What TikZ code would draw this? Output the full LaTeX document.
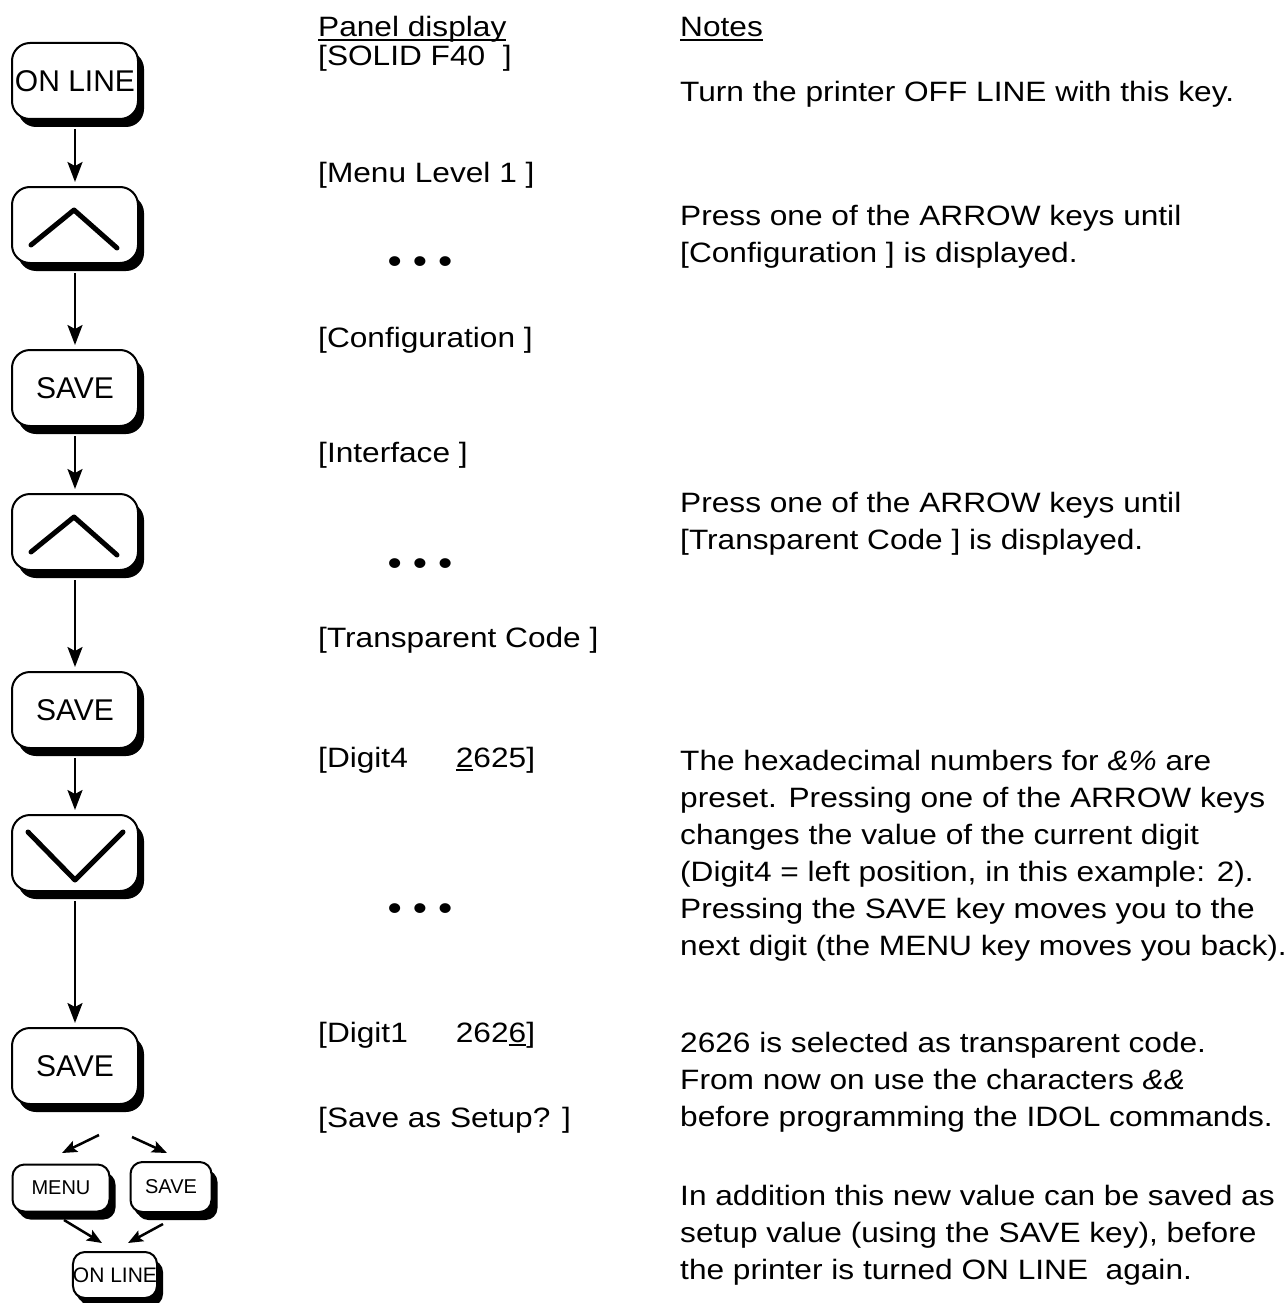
\documentclass[tikz,border=0pt]{standalone}
\usepackage{fontspec}
\setmainfont[FakeStretch=1.13]{Liberation Sans}
\newfontfamily\keyfont{Liberation Sans}
\usetikzlibrary{arrows.meta,shadows}
\newcommand\myul[1]{\setbox0\hbox{#1}\rlap{\rule[-4pt]{\wd0}{2pt}}\box0\relax}
\newcommand\paralines[1]{\vtop{\baselineskip=37pt\relax #1}}
\begin{document}
\begin{tikzpicture}[x=1pt,y=-1pt,
  keybox/.style={draw, line width=2pt, fill=white, rounded corners=18pt,
    minimum width=126pt, minimum height=76pt, inner sep=0pt,
    font=\keyfont\fontsize{30}{30}\selectfont,
    drop shadow={shadow xshift=6pt, shadow yshift=-8pt, fill=black, opacity=1}},
  smallkey/.style={keybox, rounded corners=12pt, minimum height=47pt,
    font=\keyfont\fontsize{20}{20}\selectfont,
    drop shadow={shadow xshift=3pt, shadow yshift=-5pt, fill=black, opacity=1}},
  chev/.style={line width=5pt, line cap=round, line join=round},
  arr/.style={line width=2.5pt, -{Stealth[length=20pt,width=15pt,inset=4pt]}},
  sarr/.style={line width=2.5pt, -{Stealth[length=15pt,width=12pt,inset=3pt]}},
  txt/.style={anchor=base west, inner sep=0pt, font=\fontsize{28}{37}\selectfont},
  dots/.style={anchor=center, inner sep=0pt, font=\fontsize{36}{37}\selectfont}
]
\useasboundingbox (0,0) rectangle (1287,1303);

% keys
\node[keybox] (k1) at (75,81) {ON LINE};
\node[keybox] (k2) at (75,225) {};
\draw[chev, shift={(k2.center)}] (-44,20) -- (-1,-15) -- (42,23);
\node[keybox] (k3) at (75,388) {SAVE};
\node[keybox] (k4) at (75,532) {};
\draw[chev, shift={(k4.center)}] (-44,20) -- (-1,-15) -- (42,23);
\node[keybox] (k5) at (75,710) {SAVE};
\node[keybox] (k6) at (75,853) {};
\draw[chev, shift={(k6.center)}] (-47,-21) -- (0,27) -- (48,-21);
\node[keybox] (k7) at (75,1066) {SAVE};
\node[smallkey, minimum width=97pt] (menu) at (61,1188) {MENU};
\node[smallkey, minimum width=81pt, minimum height=50pt] (save2) at (171,1187) {SAVE};
\node[smallkey, minimum width=81pt, minimum height=46pt, font=\keyfont\fontsize{21}{21}\selectfont] (online2) at (115,1275) {ON LINE};

% vertical connectors
\foreach \a/\b in {k1/k2,k2/k3,k3/k4,k4/k5,k5/k6,k6/k7}
  \draw[arr, shorten <=9pt, shorten >=4pt] (\a) -- (\b);

% diagonal connectors
\coordinate (d1s) at (99,1135);  \coordinate (d1e) at (62,1153);
\coordinate (d2s) at (132,1137); \coordinate (d2e) at (167,1153);
\coordinate (d3s) at (64,1220);  \coordinate (d3e) at (102,1243);
\coordinate (d4s) at (163,1224); \coordinate (d4e) at (128,1243);
\draw[sarr] (d1s) -- (d1e);
\draw[sarr] (d2s) -- (d2e);
\draw[sarr] (d3s) -- (d3e);
\draw[sarr] (d4s) -- (d4e);

% panel display column
\node[txt] (h1) at (318,37) {\myul{Panel display}};
\node[txt] (p1) at (318,66) {[SOLID F40\ \ ]};
\node[txt] (p2) at (318,182) {[Menu Level 1 ]};
\node[dots] (dt1) at (420,265) {\textbullet\hspace{11pt}\textbullet\hspace{11pt}\textbullet};
\node[txt] (p3) at (318,347) {[Configuration ]};
\node[txt] (p4) at (318,462) {[Interface ]};
\node[dots] (dt2) at (420,567) {\textbullet\hspace{11pt}\textbullet\hspace{11pt}\textbullet};
\node[txt] (p5) at (318,647) {[Transparent Code ]};
\node[txt] (p6) at (318,767) {[Digit4\hspace{48pt}\myul{2}625]};
\node[dots] (dt3) at (420,912) {\textbullet\hspace{11pt}\textbullet\hspace{11pt}\textbullet};
\node[txt] (p7) at (318,1042) {[Digit1\hspace{48pt}262\myul{6}]};
\node[txt] (p8) at (318,1127) {[Save as Setup? ]};

% notes column
\node[txt] (h2) at (680,37) {\myul{Notes}};
\node[txt] (n1) at (680,102) {Turn the printer OFF LINE with this key.};
\node[txt] (n2) at (680,225) {\paralines{\hbox{Press one of the ARROW keys until}\hbox{[Configuration ] is displayed.}}};
\node[txt] (n3) at (680,512) {\paralines{\hbox{Press one of the ARROW keys until}\hbox{[Transparent Code ] is displayed.}}};
\node[txt] (n4) at (680,770) {\paralines{%
  \hbox{The hexadecimal numbers for \textit{\&\%} are}%
  \hbox{preset. Pressing one of the ARROW keys}%
  \hbox{changes the value of the current digit}%
  \hbox{(Digit4 = left position, in this example: 2).}%
  \hbox{Pressing the SAVE key moves you to the}%
  \hbox{next digit (the MENU key moves you back).}}};
\node[txt] (n5) at (680,1052) {\paralines{%
  \hbox{2626 is selected as transparent code.}%
  \hbox{From now on use the characters \textit{\&\&}}%
  \hbox{before programming the IDOL commands.}}};
\node[txt] (n6) at (680,1205) {\paralines{%
  \hbox{In addition this new value can be saved as}%
  \hbox{setup value (using the SAVE key), before}%
  \hbox{the printer is turned ON LINE\ \ again.}}};
\end{tikzpicture}
\end{document}
